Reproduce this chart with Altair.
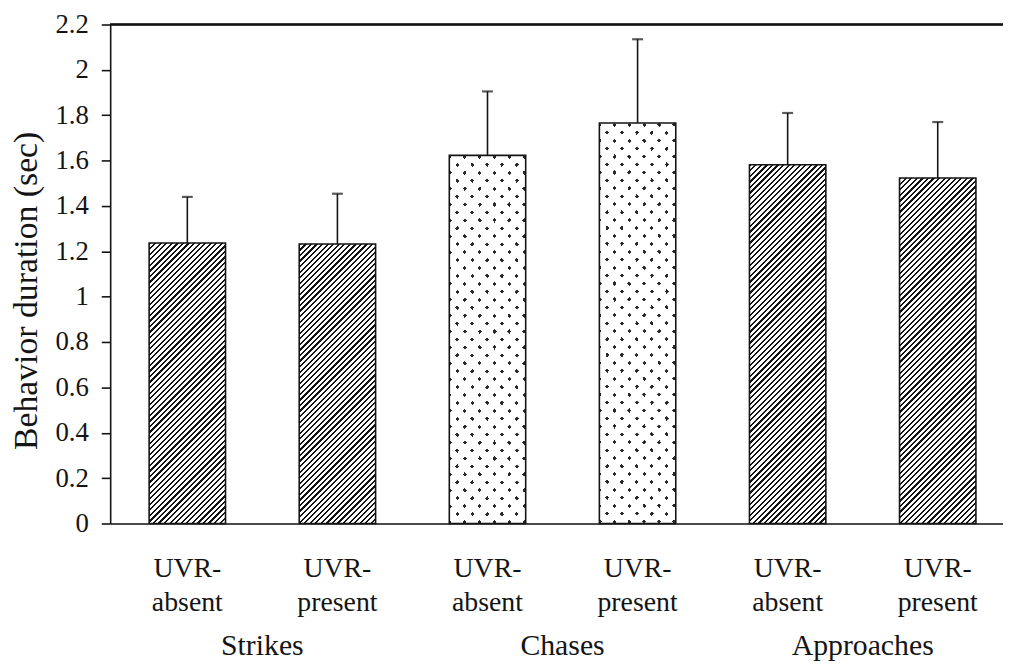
import altair as alt
import pandas as pd

# ---- data ----
behaviors = ["Strikes", "Strikes", "Chases", "Chases", "Approaches", "Approaches"]
conditions = ["absent", "present", "absent", "present", "absent", "present"]
means = [1.237, 1.232, 1.623, 1.766, 1.582, 1.523]
upper = [1.440, 1.454, 1.905, 2.135, 1.810, 1.770]
patterns = ["hatch", "hatch", "dots", "dots", "hatch", "hatch"]
group_names = ["Strikes", "Chases", "Approaches"]
y_ticks = [0, 0.2, 0.4, 0.6, 0.8, 1, 1.2, 1.4, 1.6, 1.8, 2, 2.2]

keys = [f"{b}|UVR-|{c}" for b, c in zip(behaviors, conditions)]
df = pd.DataFrame({"key": keys, "behavior": behaviors, "mean": means,
                   "upper": upper, "pattern": patterns})
group_first = [keys[behaviors.index(g)] for g in group_names]
gdf = pd.DataFrame({"key": group_first, "group": group_names})

# ---- layout ----
W, H, YMAX = 900, 503, 2.2
PI, PO, ALIGN = 0.491, 0.22, 0.59
step = W / (len(keys) - PI + 2 * PO)
bw = step * (1 - PI)

FONT = "Liberation Serif"
INK = "#141414"


def hatch_fill(w, h, period=5.6, frac=0.4):
    s = (w + h) / (w * w + h * h)
    n = (w + h) / period
    stops = []
    i = 0
    while i / n < 1:
        a = i / n
        b = min((i + frac) / n, 1)
        c = min((i + 1) / n, 1)
        stops += [{"offset": round(a, 5), "color": INK},
                  {"offset": round(b, 5), "color": INK},
                  {"offset": round(b, 5), "color": "white"},
                  {"offset": round(c, 5), "color": "white"}]
        i += 1
    return {"gradient": "linear", "x1": 0, "y1": 0,
            "x2": round(s * w, 6), "y2": round(s * h, 6), "stops": stops}


def dot_fill(w, h, family, sx=15.0, sy=8.0, gap=0.27):
    m = sy * w + sx / 2 * h
    k = m / (sy * sy * w * w + sx * sx * h * h / 4)
    n = m / (sx * sy)
    stops = []
    i = 0
    clear = "rgba(255,255,255,0)"
    while i / n < 1:
        a = i / n
        b = min((i + gap) / n, 1)
        c = min((i + 1) / n, 1)
        stops += [{"offset": round(a, 5), "color": clear},
                  {"offset": round(b, 5), "color": clear},
                  {"offset": round(b, 5), "color": "white"},
                  {"offset": round(c, 5), "color": "white"}]
        i += 1
    if family == "B":
        x1, y1, x2, y2 = 0, 0, k * sy * w, k * sx / 2 * h
    else:
        x1, y1, x2, y2 = 0, 1, k * sy * w, 1 - k * sx / 2 * h
    return {"gradient": "linear", "x1": x1, "y1": y1,
            "x2": round(x2, 6), "y2": round(y2, 6), "stops": stops}


x_axis = alt.Axis(title=None, ticks=False, domain=True, domainColor=INK,
                  domainWidth=1.6, labelAngle=0, labelFont=FONT,
                  labelFontSize=28, labelColor=INK, labelPadding=31,
                  labelLineHeight=35,
                  labelExpr="slice(split(datum.label, '|'), 1)")
y_axis = alt.Axis(title="Behavior duration (sec)", values=y_ticks, format="~g",
                  grid=False, domainColor=INK, domainWidth=1.6, tickColor=INK,
                  tickWidth=1.6, tickSize=9, labelFont=FONT, labelFontSize=27,
                  labelColor=INK, labelPadding=13, titleFont=FONT,
                  titleFontSize=34, titleFontWeight="normal",
                  titleColor=INK, titleAngle=-90, titleX=-84, titleY=268,
                  titleAlign="center", titleBaseline="middle")
x_scale = alt.Scale(domain=keys, paddingInner=PI, paddingOuter=PO, align=ALIGN)
y_scale = alt.Scale(domain=[0, YMAX], nice=False, zero=True)


def X():
    return alt.X("key:N", scale=x_scale, axis=x_axis)


def Y(field):
    return alt.Y(f"{field}:Q", scale=y_scale, axis=y_axis)


base = alt.Chart(df)
layers = []
for key, val, pat in zip(keys, means, patterns):
    h = val / YMAX * H
    one = base.transform_filter(alt.datum.key == key)
    if pat == "hatch":
        layers.append(one.mark_bar(fill=hatch_fill(bw, h), stroke=INK,
                                   strokeWidth=1.6).encode(x=X(), y=Y("mean")))
    else:
        layers.append(one.mark_bar(fill="#2a2a2a", strokeWidth=0)
                      .encode(x=X(), y=Y("mean")))
        layers.append(one.mark_bar(fill=dot_fill(bw, h, "A"), strokeWidth=0)
                      .encode(x=X(), y=Y("mean")))
        layers.append(one.mark_bar(fill=dot_fill(bw, h, "B"), stroke=INK,
                                   strokeWidth=1.6).encode(x=X(), y=Y("mean")))

err = base.mark_rule(color=INK, strokeWidth=1.6).encode(
    x=X(), y=Y("mean"), y2="upper:Q")
cap = base.mark_tick(color=INK, size=11, thickness=2.2,
                     orient="horizontal").encode(x=X(), y=Y("upper"))
top = alt.Chart(df).mark_rule(color=INK, strokeWidth=1.6).encode(
    y=alt.Y(datum=YMAX, scale=y_scale, axis=y_axis))
groups = alt.Chart(gdf).mark_text(font=FONT, fontSize=30, color=INK,
                                  align="center", baseline="alphabetic",
                                  dx=step / 2).encode(
    x=X(), y=alt.value(H + 133), text="group:N")

chart = alt.layer(*layers, err, cap, top, groups).properties(
    width=W, height=H,
    autosize=alt.AutoSizeParams(type="none"),
    padding={"left": 103, "top": 14, "right": 0, "bottom": 142},
).configure_view(stroke=None).configure(background="white")

chart.save("out.html", embed_options={"renderer": "svg", "actions": False})
